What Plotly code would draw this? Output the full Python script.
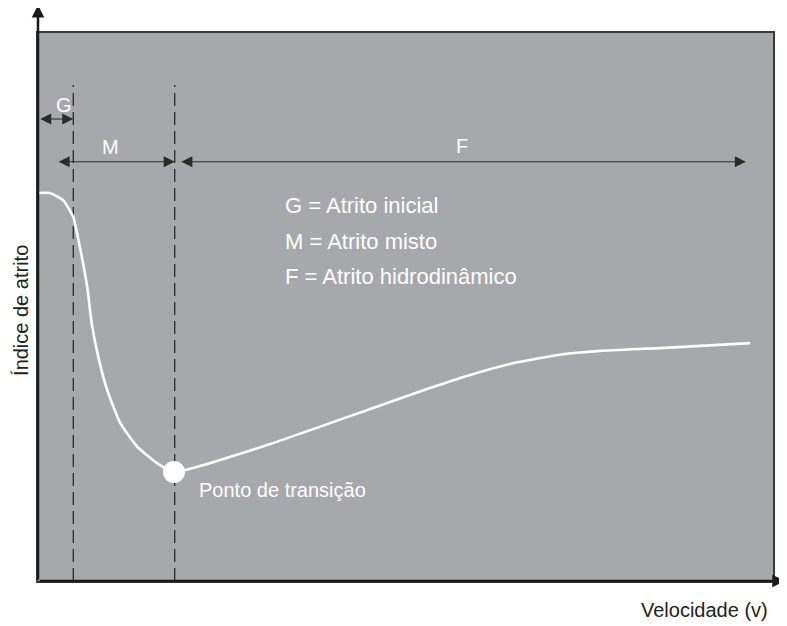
import plotly.graph_objects as go

# friction curve (Stribeck), arbitrary units 0..100
velocity = [0, 1.6, 3.4, 4.8, 5.7, 6.7, 7.3, 8.2, 9.4, 11.2, 13.5, 16.2, 18.5,
            31.6, 45.2, 53.3, 58.8, 64.2, 71.0, 76.5, 84.6, 96.9]
friction = [70.8, 70.8, 69.5, 66.4, 60.9, 53.6, 47.1, 40.9, 34.9, 28.8, 24.5, 21.5, 19.9,
            25.0, 31.4, 35.2, 37.6, 39.6, 41.3, 42.0, 42.5, 43.4]

transition = (18.5, 19.9)
boundaries = [4.8, 18.6]          # dashed lines G|M and M|F
boundary_top = 90.5

# zone arrows: (label, start, end, arrow y, label x, label y)
zones = [
    ("G", 0.1, 4.8, 84.3, 3.6, 86.8),
    ("M", 2.6, 18.6, 76.5, 9.8, 79.2),
    ("F", 19.3, 96.3, 76.5, 57.7, 79.4),
]

legend_lines = ["G = Atrito inicial", "M = Atrito misto", "F = Atrito hidrodinâmico"]
legend_y = [68.6, 61.9, 55.5]
legend_x = 33.3

FONT = "Liberation Sans, Arial, sans-serif"
GRAY = "#a7a8ac"

fig = go.Figure()

for b in boundaries:
    fig.add_trace(go.Scatter(x=[b, b], y=[0, boundary_top], mode="lines",
                             line=dict(color="#2b2b2b", width=1.3, dash="13px,6px"),
                             hoverinfo="skip"))

fig.add_trace(go.Scatter(x=velocity, y=friction, mode="lines",
                         line=dict(color="white", width=2.6, shape="spline", smoothing=0.5),
                         hoverinfo="skip"))
fig.add_trace(go.Scatter(x=[transition[0]], y=[transition[1]], mode="markers",
                         marker=dict(color="white", size=22), hoverinfo="skip"))

for label, x0, x1, ya, lx, ly in zones:
    fig.add_annotation(x=x1, y=ya, ax=x0, ay=ya, xref="x", yref="y", axref="x", ayref="y",
                       text="", showarrow=True, arrowside="end+start",
                       arrowhead=2, arrowsize=2.2, arrowwidth=1, arrowcolor="#2a2a2a")
    fig.add_annotation(x=lx, y=ly, xref="x", yref="y", text=label, showarrow=False,
                       font=dict(family=FONT, size=20, color="white"))

for txt, yy in zip(legend_lines, legend_y):
    fig.add_annotation(x=legend_x, y=yy, xref="x", yref="y", text=txt, showarrow=False,
                       xanchor="left", font=dict(family=FONT, size=22, color="white"))

fig.add_annotation(x=transition[0] + 3.1, y=transition[1] - 3.3, xref="x", yref="y",
                   text="Ponto de transição", showarrow=False, xanchor="left",
                   font=dict(family=FONT, size=20, color="white"))

# axis arrows
fig.add_annotation(x=0, y=1.051, ax=0, ay=0, xref="x domain", yref="y domain",
                   axref="x domain", ayref="y domain", text="", showarrow=True,
                   arrowhead=2, arrowsize=1, arrowwidth=2.5, arrowcolor="#1a1a1a")
fig.add_annotation(x=1.016, y=0, ax=0, ay=0, xref="x domain", yref="y domain",
                   axref="x domain", ayref="y domain", text="", showarrow=True,
                   arrowhead=2, arrowsize=1, arrowwidth=2.5, arrowcolor="#1a1a1a")

fig.add_annotation(x=0.996, y=-0.053, xref="x domain", yref="y domain", text="Velocidade (v)",
                   showarrow=False, xanchor="right", yanchor="middle",
                   font=dict(family=FONT, size=20, color="#222"))
fig.add_annotation(x=-0.023, y=0.493, xref="x domain", yref="y domain", text="Índice de atrito",
                   showarrow=False, textangle=-90, xanchor="center", yanchor="middle",
                   font=dict(family=FONT, size=20, color="#222"))

fig.update_xaxes(range=[0, 100], showgrid=False, zeroline=False, showticklabels=False,
                 ticks="", showline=True, mirror=True, linecolor="#3a3a3a", linewidth=1.5)
fig.update_yaxes(range=[0, 100], showgrid=False, zeroline=False, showticklabels=False,
                 ticks="", showline=True, mirror=True, linecolor="#3a3a3a", linewidth=1.5)
# page body has an 8px margin, so the figure is shifted; margins compensate
fig.update_layout(width=779, height=618, showlegend=False,
                  margin=dict(l=30, r=14, t=25, b=45),
                  plot_bgcolor=GRAY, paper_bgcolor="white")

fig.write_html("out.html")
